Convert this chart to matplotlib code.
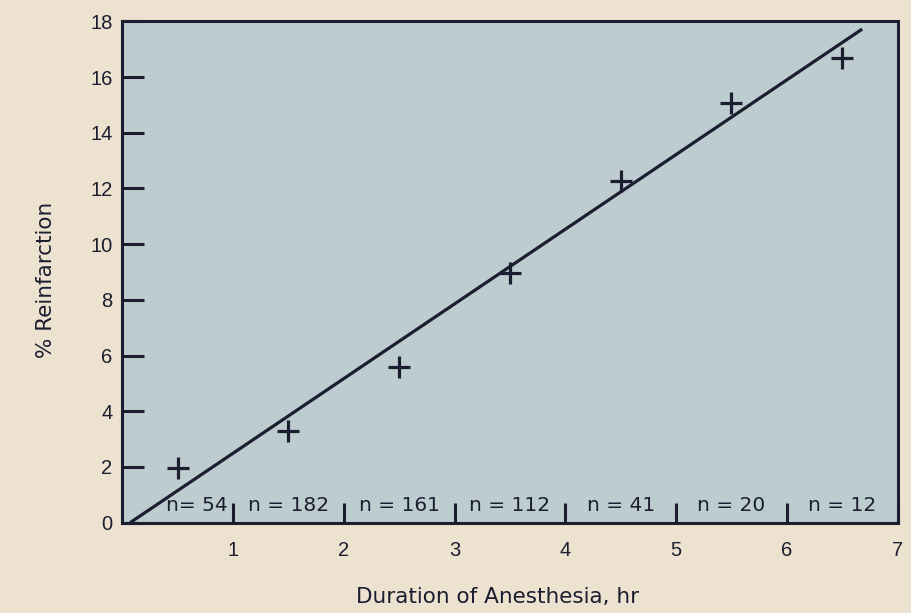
import matplotlib
matplotlib.use("Agg")
import matplotlib.pyplot as plt

# Data
hours = [0.5, 1.5, 2.5, 3.5, 4.5, 5.5, 6.5]
reinfarction = [1.95, 3.3, 5.6, 8.95, 12.25, 15.05, 16.7]
n_labels = ["n= 54", "n = 182", "n = 161", "n = 112", "n = 41", "n = 20", "n = 12"]
fit_x = [0.07, 6.68]
fit_y = [0.0, 17.72]
x_ticks = [1, 2, 3, 4, 5, 6, 7]
y_ticks = [0, 2, 4, 6, 8, 10, 12, 14, 16, 18]

plt.rcParams['font.family'] = ['Liberation Sans', 'DejaVu Sans']
wide = ['DejaVu Sans']
ink = '#1b1d30'
W, H = 912, 613
fig = plt.figure(figsize=(W / 100, H / 100), dpi=100, facecolor='#ede2cf')
ax = fig.add_axes([122.3 / W, 1 - 522.7 / H, (897.6 - 122.3) / W, (522.7 - 21.3) / H])
ax.set_facecolor('#bdcccf')

ax.plot(fit_x, fit_y, color=ink, lw=2.3, solid_capstyle='butt', zorder=3)
ax.plot(hours, reinfarction, linestyle='none', marker='+', markersize=16,
        markeredgewidth=2.3, color=ink, zorder=4)

for i, (x, lab) in enumerate(zip(hours, n_labels)):
    # the first label is squeezed against the tick at 1 hr in the original
    shift = 0.17 if i == 0 else 0.0
    ax.text(x + shift, 0.62, lab, ha='center', va='center', fontsize=14.5,
            color=ink, family=wide)

ax.set_xlim(0, 7)
ax.set_ylim(0, 18)
ax.set_xticks(x_ticks)
ax.set_yticks(y_ticks)
ax.set_xticklabels([str(t) for t in x_ticks])
ax.set_yticklabels([str(t) for t in y_ticks])
ax.tick_params(axis='both', direction='in', width=2.2, color=ink,
               labelsize=14.5, labelcolor=ink)
ax.tick_params(axis='x', length=14.5, pad=13)
ax.tick_params(axis='y', length=16, pad=7)
for s in ax.spines.values():
    s.set_linewidth(2.2)
    s.set_color(ink)

ax.set_xlabel('Duration of Anesthesia, hr', fontsize=15.5, color=ink, family=wide)
ax.set_ylabel('% Reinfarction', fontsize=15.5, color=ink, family=wide)
ax.xaxis.set_label_coords(0.4846, -0.128)
ax.yaxis.set_label_coords(-0.0855, 0.484)

fig.savefig('out.png', dpi=100, facecolor=fig.get_facecolor())
